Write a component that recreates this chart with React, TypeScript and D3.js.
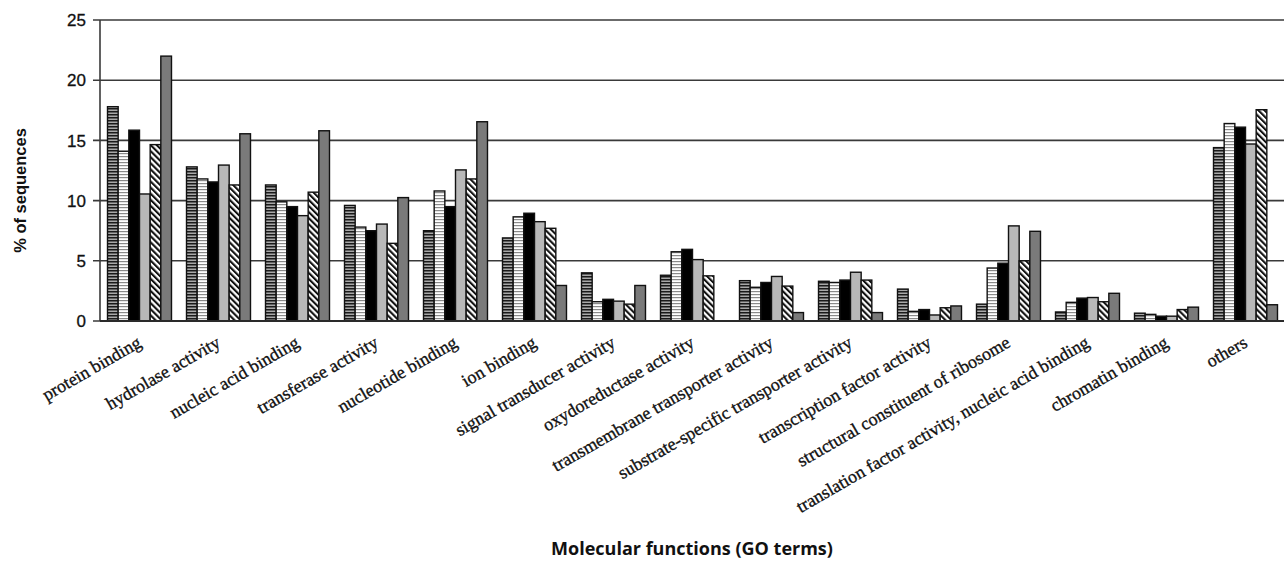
import React from "react";
import * as d3 from "d3";

const categories = [
  "protein binding",
  "hydrolase activity",
  "nucleic acid binding",
  "transferase activity",
  "nucleotide binding",
  "ion binding",
  "signal transducer activity",
  "oxydoreductase activity",
  "transmembrane transporter activity",
  "substrate-specific transporter activity",
  "transcription factor activity",
  "structural constituent of ribosome",
  "translation factor activity, nucleic acid binding",
  "chromatin binding",
  "others",
];

const series1 = [17.8, 12.8, 11.3, 9.6, 7.5, 6.9, 4.0, 3.8, 3.35, 3.3, 2.65, 1.4, 0.75, 0.65, 14.4];
const series2 = [14.1, 11.8, 9.9, 7.8, 10.8, 8.65, 1.6, 5.75, 2.8, 3.2, 0.8, 4.4, 1.55, 0.55, 16.4];
const series3 = [15.85, 11.55, 9.5, 7.5, 9.5, 8.95, 1.8, 5.95, 3.2, 3.4, 0.95, 4.8, 1.9, 0.4, 16.1];
const series4 = [10.55, 12.95, 8.75, 8.05, 12.55, 8.25, 1.65, 5.1, 3.7, 4.05, 0.5, 7.9, 1.95, 0.4, 14.7];
const series5 = [14.65, 11.3, 10.7, 6.45, 11.8, 7.7, 1.4, 3.75, 2.9, 3.4, 1.1, 5.0, 1.6, 0.95, 17.55];
const series6 = [22.0, 15.55, 15.8, 10.25, 16.55, 2.95, 2.95, 0, 0.7, 0.7, 1.25, 7.45, 2.3, 1.15, 1.35];

const allSeries = [series1, series2, series3, series4, series5, series6];
const seriesFills = ["url(#pDarkH)", "url(#pLightH)", "#000000", "#b8b8b8", "url(#pDiag)", "#7a7a7a"];

const yTicks = [0, 5, 10, 15, 20, 25];

const W = 1284;
const H = 579;
const left = 100;
const right = 1285;
const top = 20;
const bottom = 321;

export default function App() {
  const x = d3
    .scaleBand<string>()
    .domain(categories)
    .range([left, right])
    .paddingInner(0.19)
    .paddingOuter(0.095);
  const xs = d3
    .scaleBand<number>()
    .domain(allSeries.map((_, i) => i))
    .range([0, x.bandwidth()]);
  const y = d3.scaleLinear().domain([0, 25]).range([bottom, top]);

  return (
    <svg
      width={W}
      height={H}
      style={{ position: "absolute", left: 0, top: 0, background: "#fff" }}
    >
      <defs>
        <pattern id="pDarkH" width="4" height="3" patternUnits="userSpaceOnUse">
          <rect width="4" height="3" fill="#a8a8a8" />
          <rect y="0" width="4" height="1.5" fill="#1a1a1a" />
        </pattern>
        <pattern id="pLightH" width="4" height="3" patternUnits="userSpaceOnUse">
          <rect width="4" height="3" fill="#ffffff" />
          <rect y="0" width="4" height="1.2" fill="#8a8a8a" />
        </pattern>
        <pattern
          id="pDiag"
          width="4.3"
          height="4.3"
          patternUnits="userSpaceOnUse"
          patternTransform="rotate(-45)"
        >
          <rect width="4.3" height="4.3" fill="#ffffff" />
          <rect width="2.1" height="4.3" fill="#111111" />
        </pattern>
      </defs>

      {/* gridlines */}
      {yTicks.map((t) => (
        <line
          key={"g" + t}
          x1={left - 7}
          x2={right}
          y1={y(t)}
          y2={y(t)}
          stroke="#3a3a3a"
          strokeWidth={1.6}
        />
      ))}
      {/* y axis line */}
      <line x1={left} x2={left} y1={y(25)} y2={y(0)} stroke="#3a3a3a" strokeWidth={1.6} />

      {/* tick labels */}
      {yTicks.map((t) => (
        <text
          key={"t" + t}
          x={86}
          y={y(t)}
          dy="0.36em"
          textAnchor="end"
          fontFamily="'Liberation Sans', Arial, sans-serif"
          fontSize={17}
          fill="#111"
          stroke="#111"
          strokeWidth={0.3}
        >
          {t}
        </text>
      ))}

      {/* bars */}
      {categories.map((c, ci) => (
        <g key={c} transform={`translate(${x(c)},0)`}>
          {allSeries.map((s, si) =>
            s[ci] > 0 ? (
              <rect
                key={si}
                x={xs(si)}
                y={y(s[ci])}
                width={xs.bandwidth()}
                height={y(0) - y(s[ci])}
                fill={seriesFills[si]}
                stroke="#111"
                strokeWidth={1.4}
              />
            ) : null
          )}
        </g>
      ))}

      {/* baseline */}
      <line x1={left} x2={right} y1={y(0)} y2={y(0)} stroke="#2a2a2a" strokeWidth={1.8} />

      {/* category labels */}
      {categories.map((c) => {
        const cx = (x(c) as number) + x.bandwidth() / 2 + 3;
        const cy = 346;
        return (
          <text
            key={"l" + c}
            x={cx}
            y={cy}
            transform={`rotate(-30 ${cx} ${cy})`}
            textAnchor="end"
            fontFamily="'Liberation Serif', 'Times New Roman', serif"
            fontSize={18}
            fill="#111"
            stroke="#111"
            strokeWidth={0.35}
          >
            {c}
          </text>
        );
      })}

      {/* y axis title */}
      <text
        transform={`translate(26,${(top + bottom) / 2 + 20}) rotate(-90)`}
        textAnchor="middle"
        fontFamily="'Liberation Sans', Arial, sans-serif"
        fontWeight="bold"
        fontSize={16.5}
        fill="#111"
      >
        % of sequences
      </text>

      {/* x axis title */}
      <text
        x={692}
        y={555}
        textAnchor="middle"
        fontFamily="'Open Sans', sans-serif"
        fontWeight="bold"
        fontSize={18}
        fill="#111"
      >
        Molecular functions (GO terms)
      </text>
    </svg>
  );
}
